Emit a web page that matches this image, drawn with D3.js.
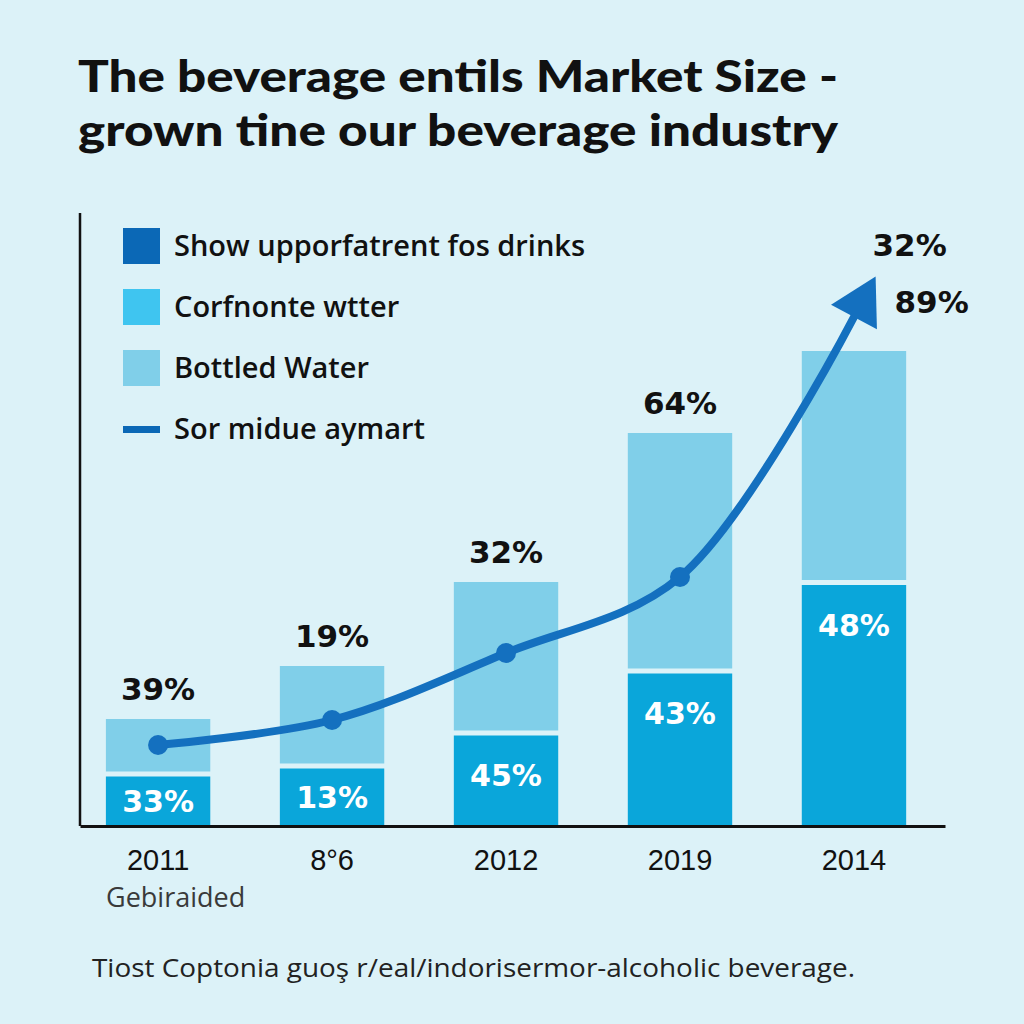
<!DOCTYPE html>
<html><head><meta charset="utf-8">
<script src="https://cdn.jsdelivr.net/npm/d3@7"></script>
<style>html,body{margin:0;padding:0;background:#dcf2f8;}</style>
</head><body>
<script>
// ---- data ----
const titleLines = ["The beverage entils Market Size -", "grown tine our beverage industry"];
const categories = ["2011", "8°6", "2012", "2019", "2014"];
const baseValues = [10.4, 12, 18.6, 31, 48.7];
const totalValues = [21.4, 32, 48.8, 78.6, 95];
const lineValues = [16.2, 21.2, 34.6, 49.8];
const arrowEnd = {pos: 4.0, value: 101.8};
const topLabels = ["39%", "19%", "32%", "64%", ""];
const baseLabels = ["33%", "13%", "45%", "43%", "48%"];
const arrowLabels = ["32%", "89%"];
const legendLabels = ["Show upporfatrent fos drinks", "Corfnonte wtter", "Bottled Water", "Sor midue aymart"];
const xSubLabel = "Gebiraided";
const footer = "Tiost Coptonia guoş r/eal/indorisermor-alcoholic beverage.";

// ---- style ----
const W = 1024, H = 1024;
const C = {bg:"#dcf2f8", dark:"#0b68b6", cyan:"#3fc5f0", light:"#80cfe9", base:"#0aa6da", line:"#1470bf"};

const svg = d3.select("body").append("svg").attr("width", W).attr("height", H);
svg.append("rect").attr("width", W).attr("height", H).attr("fill", C.bg);

// title
svg.selectAll("text.title").data(titleLines).join("text")
  .attr("x", 78).attr("y", (d, i) => 92 + i * 54)
  .attr("font-family", "Lato, 'DejaVu Sans', sans-serif").attr("font-weight", 900)
  .attr("font-size", 44).attr("fill", "#111")
  .attr("textLength", 760).attr("lengthAdjust", "spacingAndGlyphs")
  .text(d => d);

const x0 = 80, xEnd = 945, yBase = 826;
const x = d3.scaleBand().domain(categories).range([x0, xEnd])
  .paddingInner(0.4).paddingOuter(0.186).align(0.4);
const y = d3.scaleLinear().domain([0, 100]).range([yBase, 326]);
const bw = x.bandwidth();
const xPos = d3.scaleLinear().domain([0, categories.length - 1])
  .range([x(categories[0]) + bw / 2, x(categories[categories.length - 1]) + bw / 2]);

const gap = 2.5;
const bars = svg.append("g");
categories.forEach((c, i) => {
  bars.append("rect").attr("x", x(c)).attr("width", bw)
    .attr("y", y(totalValues[i])).attr("height", y(baseValues[i]) - gap - y(totalValues[i]))
    .attr("fill", C.light);
  bars.append("rect").attr("x", x(c)).attr("width", bw)
    .attr("y", y(baseValues[i]) + gap).attr("height", yBase - y(baseValues[i]) - gap)
    .attr("fill", C.base);
});

// axes
svg.append("line").attr("x1", x0).attr("x2", x0).attr("y1", 213).attr("y2", yBase)
  .attr("stroke", "#111").attr("stroke-width", 2.5);
const xAxis = svg.append("g").attr("transform", `translate(0,${yBase})`)
  .call(d3.axisBottom(x).tickSize(0).tickPadding(23));
xAxis.select(".domain").attr("stroke", "#111").attr("stroke-width", 3);
xAxis.selectAll("text").attr("font-family", "'Liberation Sans', Arial, sans-serif")
  .attr("font-size", 29).attr("fill", "#111");

svg.append("text").attr("x", 106).attr("y", 907).text(xSubLabel)
  .attr("font-family", "'Open Sans', sans-serif").attr("font-size", 27).attr("fill", "#3a3a3a");

// top labels
svg.append("g").selectAll("text").data(categories).join("text")
  .attr("x", d => x(d) + bw / 2).attr("y", (d, i) => y(totalValues[i]) - 19)
  .attr("text-anchor", "middle")
  .attr("font-family", "'DejaVu Sans', sans-serif").attr("font-weight", 700)
  .attr("font-size", 31).attr("fill", "#111")
  .text((d, i) => topLabels[i]);

// base labels
svg.append("g").selectAll("text").data(categories).join("text")
  .attr("x", d => x(d) + bw / 2)
  .attr("y", (d, i) => { const t = y(baseValues[i]) + gap; return t + Math.min(40, (yBase - t) / 2); })
  .attr("dy", "0.36em").attr("text-anchor", "middle")
  .attr("font-family", "'DejaVu Sans', sans-serif").attr("font-weight", 700)
  .attr("font-size", 30).attr("fill", "#fff")
  .text((d, i) => baseLabels[i]);

// line
const pts = lineValues.map((v, i) => [xPos(i), y(v)]);
pts.push([xPos(arrowEnd.pos), y(arrowEnd.value)]);
const path = svg.append("path").attr("d", d3.line().curve(d3.curveCatmullRom.alpha(0.5))(pts))
  .attr("fill", "none").attr("stroke", C.line).attr("stroke-width", 8).attr("stroke-linecap", "round");
const L = path.node().getTotalLength();
const pA = path.node().getPointAtLength(L - 12), pB = path.node().getPointAtLength(L);
const ang = Math.atan2(pB.y - pA.y, pB.x - pA.x);
const headLen = 46, headHalf = 26;
const tip = [pB.x + headLen * Math.cos(ang), pB.y + headLen * Math.sin(ang)];
const b1 = [pB.x + headHalf * Math.cos(ang + Math.PI / 2), pB.y + headHalf * Math.sin(ang + Math.PI / 2)];
const b2 = [pB.x - headHalf * Math.cos(ang + Math.PI / 2), pB.y - headHalf * Math.sin(ang + Math.PI / 2)];
svg.append("path").attr("d", `M${tip}L${b1}L${b2}Z`).attr("fill", C.line);
svg.append("g").selectAll("circle").data(lineValues.map((v, i) => pts[i])).join("circle")
  .attr("cx", d => d[0]).attr("cy", d => d[1]).attr("r", 10).attr("fill", C.line);

// arrow labels
svg.append("g").selectAll("text").data(arrowLabels).join("text")
  .attr("x", (d, i) => tip[0] + 34 + i * 22).attr("y", (d, i) => tip[1] - 20 + i * 57)
  .attr("text-anchor", "middle")
  .attr("font-family", "'DejaVu Sans', sans-serif").attr("font-weight", 700)
  .attr("font-size", 31).attr("fill", "#111").text(d => d);

// legend
const lg = svg.append("g").attr("transform", "translate(123,228)");
const legendColors = [C.dark, C.cyan, C.light, C.dark];
legendLabels.forEach((t, i) => {
  const yy = i * 61;
  if (i < 3) lg.append("rect").attr("x", 0).attr("y", yy).attr("width", 37).attr("height", 36).attr("fill", legendColors[i]);
  else lg.append("rect").attr("x", 0).attr("y", yy + 15).attr("width", 37).attr("height", 7).attr("fill", legendColors[i]);
  lg.append("text").attr("x", 51).attr("y", yy + 18).attr("dy", "0.36em")
    .attr("font-family", "'Open Sans', sans-serif").attr("font-weight", 600)
    .attr("font-size", 29).attr("fill", "#111").text(t);
});

// footer
svg.append("text").attr("x", 92).attr("y", 977).text(footer)
  .attr("font-family", "'Open Sans', sans-serif").attr("font-size", 26).attr("fill", "#222")
  .attr("textLength", 763).attr("lengthAdjust", "spacingAndGlyphs");
</script>
</body></html>
